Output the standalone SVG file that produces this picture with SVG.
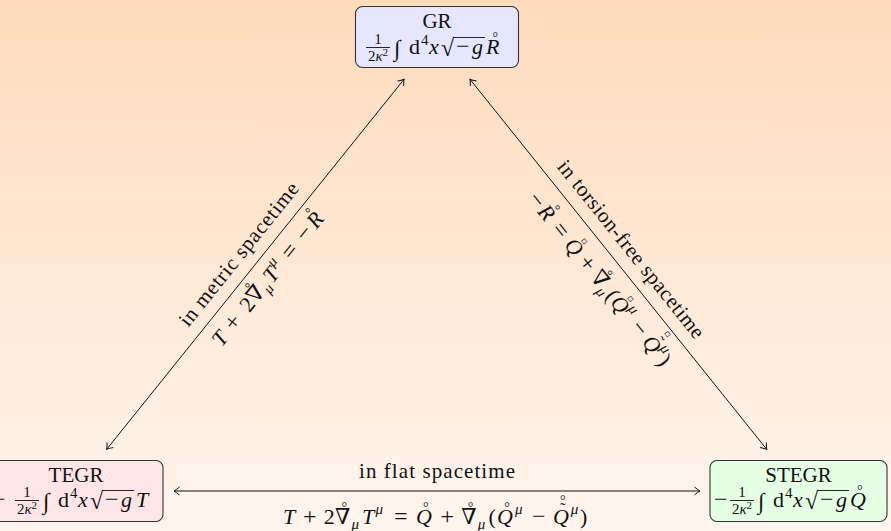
<svg xmlns="http://www.w3.org/2000/svg" width="891" height="531" viewBox="0 0 891 531">
<defs>
<linearGradient id="bg" x1="0" y1="0" x2="0" y2="1">
<stop offset="0" stop-color="#ffdbbc"/>
<stop offset="1" stop-color="#fff5ee"/>
</linearGradient>
<marker id="ah" viewBox="-7 -5 8 10" refX="0" refY="0" markerWidth="8" markerHeight="10" markerUnits="userSpaceOnUse" orient="auto-start-reverse">
<path d="M-5.5,-4 Q-2,-1 0,0 Q-2,1 -5.5,4" fill="none" stroke="#111" stroke-width="1"/>
</marker>
<style>
.m{font-family:"Liberation Serif","DejaVu Serif",serif;font-size:22px;fill:#111}
.i{font-style:italic}
.op{font-size:24px}
.s{font-size:15px}
.ss{font-size:11px}
.rg{font-size:14px}
.td{font-size:16px}
.it{font-size:23px}
.rt{font-size:24px}
.lb{font-size:21px}
.sq{font-family:"DejaVu Sans",sans-serif;font-size:9px;fill:#111}
.box{stroke:#333;stroke-width:1.1}
.conn line{stroke:#111;stroke-width:1;fill:none;marker-start:url(#ah);marker-end:url(#ah)}
.bar{stroke:#111;stroke-width:0.9}
</style>
</defs>
<rect x="0" y="0" width="891" height="531" fill="url(#bg)"/>

<g id="connectors" class="conn">
<line x1="106.7" y1="449.3" x2="404" y2="79.3"/>
<line x1="470" y1="79.3" x2="766.7" y2="449.3"/>
<line x1="174" y1="491" x2="700" y2="491"/>
</g>

<g id="gr">
<rect class="box" x="355.5" y="6.5" width="163" height="61" rx="7" fill="#e6e6ff"/>
<text class="m lb" x="437" y="28" text-anchor="middle">GR</text>
<text class="m s" x="378" y="44" text-anchor="middle">1</text>
<line class="bar" x1="366" y1="47.5" x2="390" y2="47.5"/>
<text class="m s" x="378" y="60.5" text-anchor="middle">2<tspan class="i">κ</tspan><tspan class="ss" dy="-5">2</tspan></text>
<text class="m"><tspan class="it" x="394" y="56">∫</tspan><tspan x="409" y="54">d</tspan><tspan class="s" x="421" y="45">4</tspan><tspan class="i" x="429" y="54">x</tspan><tspan class="rt" x="441" y="56">√</tspan><tspan class="op" x="456" y="54">−</tspan><tspan class="i" x="472" y="54">g</tspan><tspan class="i" x="486" y="54">R</tspan><tspan class="rg" x="492.5" y="41.5">°</tspan></text>
<line class="bar" x1="453.5" y1="37.5" x2="485" y2="37.5"/>
</g>

<g id="tegr">
<rect class="box" x="-12" y="460.5" width="175" height="61" rx="7" fill="#ffe5e5"/>
<text class="m lb" x="76" y="482" text-anchor="middle">TEGR</text>
<text class="m"><tspan class="op" x="-8" y="507">−</tspan></text>
<text class="m s" x="27" y="497" text-anchor="middle">1</text>
<line class="bar" x1="15" y1="500.5" x2="39" y2="500.5"/>
<text class="m s" x="27" y="513.5" text-anchor="middle">2<tspan class="i">κ</tspan><tspan class="ss" dy="-5">2</tspan></text>
<text class="m"><tspan class="it" x="43" y="509">∫</tspan><tspan x="58" y="507">d</tspan><tspan class="s" x="70" y="498">4</tspan><tspan class="i" x="78" y="507">x</tspan><tspan class="rt" x="90" y="509">√</tspan><tspan class="op" x="105" y="507">−</tspan><tspan class="i" x="121" y="507">g</tspan><tspan class="i" x="136" y="507">T</tspan></text>
<line class="bar" x1="102.5" y1="490.5" x2="134" y2="490.5"/>
</g>

<g id="stegr">
<rect class="box" x="710" y="460.5" width="177" height="61" rx="7" fill="#e5ffe5"/>
<text class="m lb" x="798.5" y="482" text-anchor="middle">STEGR</text>
<text class="m"><tspan class="op" x="714" y="507">−</tspan></text>
<text class="m s" x="742" y="497" text-anchor="middle">1</text>
<line class="bar" x1="730" y1="500.5" x2="754" y2="500.5"/>
<text class="m s" x="742" y="513.5" text-anchor="middle">2<tspan class="i">κ</tspan><tspan class="ss" dy="-5">2</tspan></text>
<text class="m"><tspan class="it" x="758" y="509">∫</tspan><tspan x="773" y="507">d</tspan><tspan class="s" x="785" y="498">4</tspan><tspan class="i" x="793" y="507">x</tspan><tspan class="rt" x="805" y="509">√</tspan><tspan class="op" x="820" y="507">−</tspan><tspan class="i" x="836" y="507">g</tspan><tspan class="i" x="850" y="507">Q</tspan><tspan class="rg" x="857" y="494.5">°</tspan></text>
<line class="bar" x1="817.5" y1="490.5" x2="849" y2="490.5"/>
</g>

<g id="label-flat">
<text class="m lb" x="437" y="478" text-anchor="middle" textLength="156" lengthAdjust="spacing">in flat spacetime</text>
<text class="m"><tspan class="i" x="283" y="524">T</tspan><tspan class="op" x="303" y="524">+</tspan><tspan x="323.7" y="524">2</tspan><tspan x="335" y="524">∇</tspan><tspan class="rg" x="341.6" y="512">°</tspan><tspan class="i s" x="351.5" y="528.5">μ</tspan><tspan class="i" x="362" y="524">T</tspan><tspan class="i s" x="375.4" y="514">μ</tspan><tspan class="op" x="394" y="524">=</tspan><tspan class="i" x="415.9" y="524">Q</tspan><tspan class="rg" x="423.1" y="511.5">°</tspan><tspan class="op" x="440.5" y="524">+</tspan><tspan x="461.2" y="524">∇</tspan><tspan class="rg" x="467.8" y="512">°</tspan><tspan class="i s" x="477.8" y="528.5">μ</tspan><tspan x="488.4" y="524">(</tspan><tspan class="i" x="497.1" y="524">Q</tspan><tspan class="rg" x="504.3" y="511.5">°</tspan><tspan class="i s" x="514.9" y="514">μ</tspan><tspan class="op" x="532" y="524">−</tspan><tspan class="i" x="552.9" y="524">Q</tspan><tspan class="td" x="560.2" y="513.6">˜</tspan><tspan class="rg" x="560.1" y="504.5">°</tspan><tspan class="i s" x="570.7" y="514">μ</tspan><tspan x="580.1" y="524">)</tspan></text>
</g>

<g id="label-metric" transform="translate(255.4,264.3) rotate(-51.22)">
<text class="m lb" x="-2.5" y="-12.5" text-anchor="middle" textLength="178" lengthAdjust="spacing">in metric spacetime</text>
<text class="m"><tspan class="i" x="-86" y="26">T</tspan><tspan class="op" x="-66.3" y="26">+</tspan><tspan x="-41.9" y="26">2</tspan><tspan x="-30.8" y="26">∇</tspan><tspan class="rg" x="-24.2" y="14">°</tspan><tspan class="i s" x="-14.6" y="30.5">μ</tspan><tspan class="i" x="-4.5" y="26">T</tspan><tspan class="i s" x="8.6" y="16">μ</tspan><tspan class="op" x="25" y="26">=</tspan><tspan class="op" x="48.2" y="26">−</tspan><tspan class="i" x="65.3" y="26">R</tspan><tspan class="rg" x="72" y="14">°</tspan></text>
</g>

<g id="label-torsion" transform="translate(618.4,264.3) rotate(51.28)">
<text class="m lb" x="-3.8" y="-12.5" text-anchor="middle" textLength="222" lengthAdjust="spacing">in torsion-free spacetime</text>
<text class="m"><tspan class="op" x="-108" y="31">−</tspan><tspan class="i" x="-92" y="31">R</tspan><tspan class="rg" x="-85.3" y="19">°</tspan><tspan class="op" x="-69.3" y="31">=</tspan><tspan class="i" x="-49.2" y="31">Q</tspan><tspan class="op" x="-27" y="31">+</tspan><tspan x="-8.1" y="31">∇</tspan><tspan class="rg" x="-1.5" y="19">°</tspan><tspan class="i s" x="7" y="35.5">μ</tspan><tspan x="16.6" y="31">(</tspan><tspan class="i" x="24.5" y="31">Q</tspan><tspan class="i s" x="40.7" y="21">μ</tspan><tspan class="op" x="56.4" y="31">−</tspan><tspan class="i" x="75.3" y="31">Q</tspan><tspan class="td" x="82.6" y="21.6">˜</tspan><tspan class="i s" x="91.4" y="21">μ</tspan><tspan x="100.1" y="31">)</tspan></text>
<text class="sq"><tspan x="-42.2" y="14.7">▫</tspan><tspan x="31.5" y="14.7">▫</tspan><tspan x="82.3" y="7.7">▫</tspan></text>
</g>
</svg>
